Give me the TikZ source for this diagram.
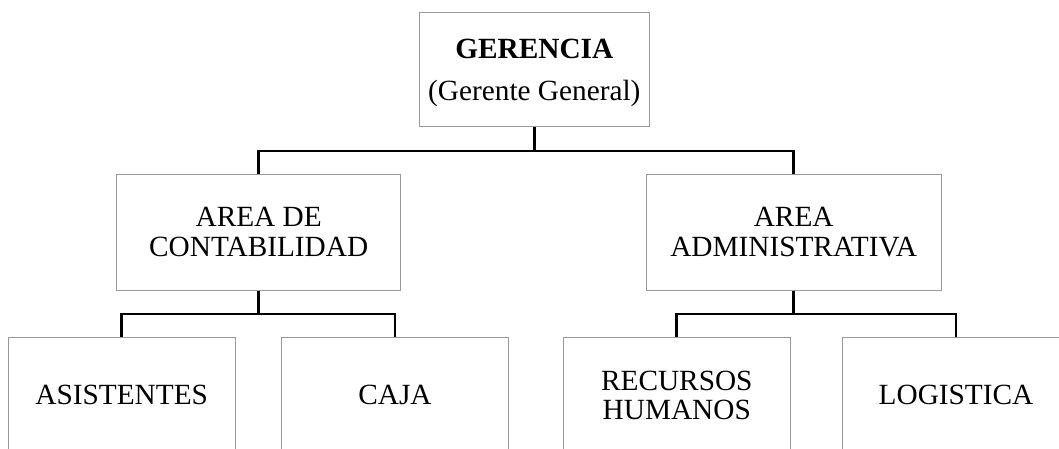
\documentclass[tikz,border=0pt]{standalone}
\usepackage{fontspec}
\setmainfont{Liberation Serif}
\usetikzlibrary{positioning}
\begin{document}
\begin{tikzpicture}[x=1pt,y=1pt,
            box/.style={draw=black!40, line width=0.9pt, align=center, inner sep=0pt,
                font=\fontsize{29.3}{29.5}\selectfont},
            link/.style={black, line width=2.8pt}]
            \clip (0,0) rectangle (1059,-449);
            \node [box, minimum width=230pt, minimum height=114pt] (ger) at (534.3,-69.7) {\rule{0pt}{26pt}\textbf{GERENCIA}\\[12.3pt](Gerente General)};
            \node [box, minimum width=284pt, minimum height=116pt] (cont) at (258.7,-232.2) {AREA DE\\CONTABILIDAD};
            \node [box, minimum width=295pt, minimum height=116pt] (adm) at (793.7,-232.2) {AREA\\ADMINISTRATIVA};
            \node [box, minimum width=227pt, minimum height=115pt] (asis) at (121.7,-395.2) {ASISTENTES};
            \node [box, minimum width=227pt, minimum height=115pt] (caja) at (395.0,-395.2) {CAJA};
            \node [box, minimum width=227pt, minimum height=115pt] (rrhh) at (676.8,-395.2) {RECURSOS\\HUMANOS};
            \node [box, minimum width=227pt, minimum height=115pt] (logi) at (956.0,-395.2) {LOGISTICA};
            \coordinate (j1) at (534.3,-151);
            \coordinate (j2) at (258.7,-314);
            \coordinate (j3) at (793.7,-314);
            \draw [link] (ger.south) -- (j1);
            \draw [link] (j1) -| (cont.north);
            \draw [link] (j1) -| (adm.north);
            \draw [link] (cont.south) -- (j2);
            \draw [link] (j2) -| (asis.north);
            \draw [link] (j2) -| (caja.north);
            \draw [link] (adm.south) -- (j3);
            \draw [link] (j3) -| (rrhh.north);
            \draw [link] (j3) -| (logi.north);
\end{tikzpicture}
\end{document}
